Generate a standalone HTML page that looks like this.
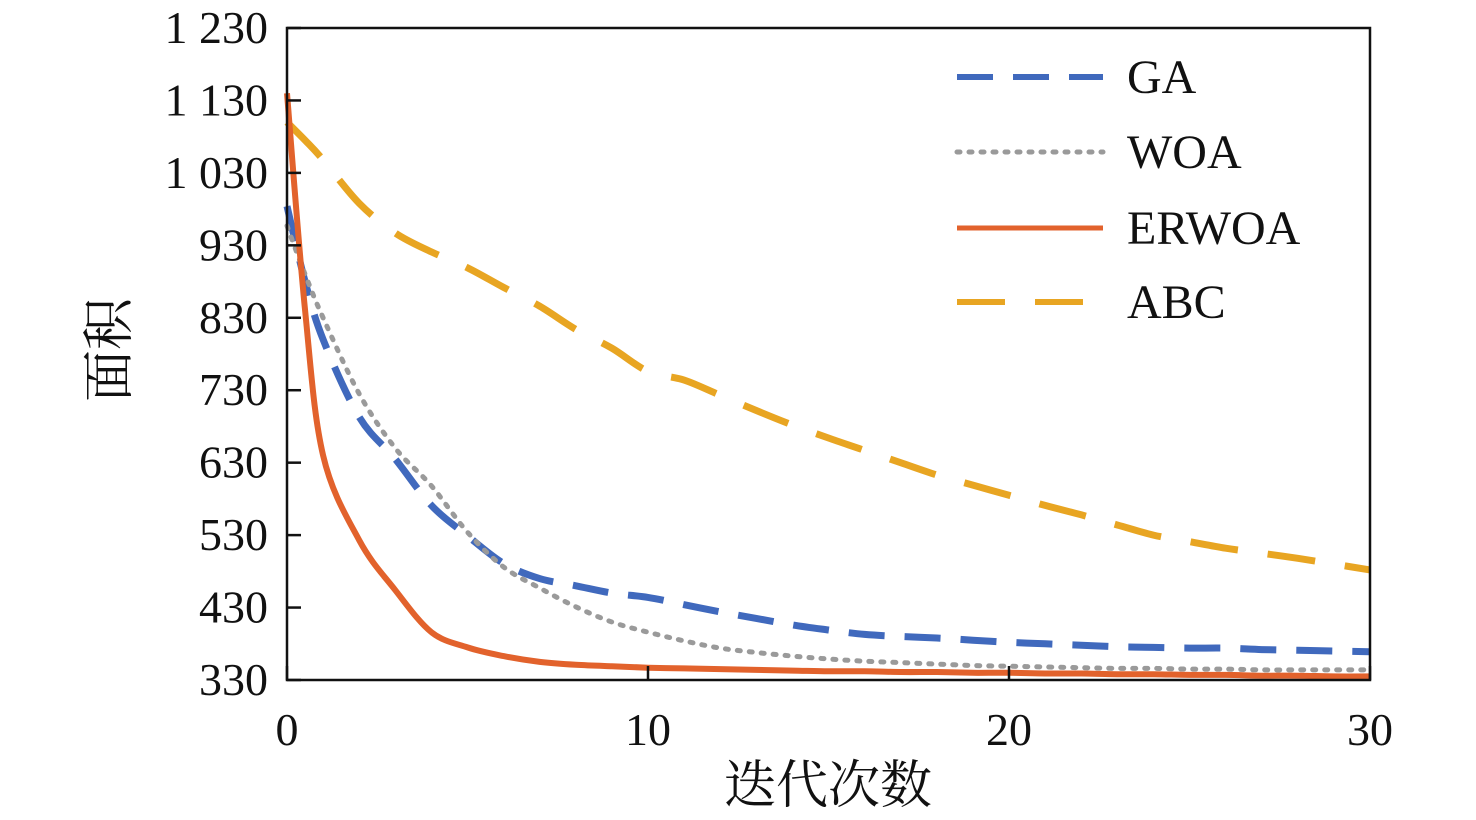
<!DOCTYPE html>
<html><head><meta charset="utf-8"><style>
html,body{margin:0;padding:0;background:#fff;}
svg{display:block;}
text{font-family:"Liberation Serif","Noto Serif CJK SC",serif;}
</style></head><body>
<svg id="chart" width="1476" height="820" viewBox="0 0 1476 820"></svg>
<script>
const iterations=[0,0.5,1,2,3,4,5,6,7,8,9,10,11,12,13,14,15,16,17,18,19,20,21,22,23,24,25,26,27,28,29,30];
const gaValues=[984,880,800,693,635,571,529,491,470,460,450,444,434,424,415,406,399,393,390,388,385,382,380,378,376,375,374,374,372,371,370,369];
const woaValues=[957,890,830,725,650,598,534,486,457,431,410,396,384,374,368,363,359,356,354,352,350,349,348,347,346,346,345,345,344,344,344,344];
const erwoaValues=[1140,840,640,523,454,396,375,363,355,351,349,347,346,345,344,343,342,342,341,341,340,340,339,339,338,338,337,337,336,336,335,335];
const abcValues=[1100,1075,1048,988,947,921,899,872,846,814,788,756,744,723,702,682,664,647,630,613,599,585,571,558,544,530,521,512,505,498,490,482];
const yTicks=[330,430,530,630,730,830,930,1030,1130,1230];
const yTickLabels=["330","430","530","630","730","830","930","1 030","1 130","1 230"];
const xTicks=[0,10,20,30];
const X0=287,X1=1370,Y0=680,Y1=28;
const xs=v=>X0+(v-0)/30*(X1-X0);
const ys=v=>Y0-(v-330)/900*(Y0-Y1);
const svg=document.getElementById('chart');
const NS='http://www.w3.org/2000/svg';
function mk(t,a){const e=document.createElementNS(NS,t);for(const k in a)e.setAttribute(k,a[k]);svg.appendChild(e);return e;}
function smooth(P){
 let d='M'+P[0][0].toFixed(1)+','+P[0][1].toFixed(1);
 for(let i=0;i<P.length-1;i++){
  const p0=P[i-1]||P[i],p1=P[i],p2=P[i+1],p3=P[i+2]||P[i+1];
  const c1=[p1[0]+(p2[0]-p0[0])/6,p1[1]+(p2[1]-p0[1])/6];
  const c2=[p2[0]-(p3[0]-p1[0])/6,p2[1]-(p3[1]-p1[1])/6];
  d+=' C'+c1.map(v=>v.toFixed(1))+' '+c2.map(v=>v.toFixed(1))+' '+p2.map(v=>v.toFixed(1));
 }
 return d;
}
const series=[
 {name:'abc-line',vals:abcValues,color:'#e8a522',w:7,dash:'48 30'},
 {name:'ga-line',vals:gaValues,color:'#4069bd',w:7,dash:'36 20'},
 {name:'woa-line',vals:woaValues,color:'#9a9a9a',w:5,dash:'3 9'},
 {name:'erwoa-line',vals:erwoaValues,color:'#e2622c',w:6,dash:''}
];
series.forEach(s=>{
 const P=iterations.map((it,i)=>[xs(it),ys(s.vals[i])]);
 const p=mk('path',{d:smooth(P),fill:'none',stroke:s.color,'stroke-width':s.w,'stroke-linejoin':'round','stroke-linecap':s.dash==='3 9'?'round':'butt'});
 if(s.dash)p.setAttribute('stroke-dasharray',s.dash);
 
 
});
const fr=mk('rect',{x:X0,y:Y1,width:X1-X0,height:Y0-Y1,fill:'none',stroke:'#111','stroke-width':2.5});


yTicks.forEach((v,i)=>{
 const y=ys(v);
 const t=mk('line',{x1:X0,x2:X0+14,y1:y,y2:y,stroke:'#111','stroke-width':2.5});
 
 
 const l=mk('text',{x:268,y:y+15,'font-size':46,'text-anchor':'end',fill:'#111'});
 l.textContent=yTickLabels[i];
 
 
});
xTicks.forEach(v=>{
 const x=xs(v);
 const t=mk('line',{x1:x,x2:x,y1:Y0,y2:Y0-14,stroke:'#111','stroke-width':2.5});
 
 
 const l=mk('text',{x:x,y:745,'font-size':46,'text-anchor':'middle',fill:'#111'});
 l.textContent=String(v);
 
 
});
const xt=mk('text',{x:828,y:803,'font-size':52,'text-anchor':'middle',fill:'#111'});
xt.textContent='迭代次数';


const yt=mk('text',{x:0,y:0,'font-size':52,'text-anchor':'middle',fill:'#111',transform:'translate(127,350) rotate(-90)'});
yt.textContent='面积';


const legend=[
 {label:'GA',y:77,color:'#4069bd',w:6,dash:'36 20'},
 {label:'WOA',y:152,color:'#9a9a9a',w:5,dash:'3 9'},
 {label:'ERWOA',y:228,color:'#e2622c',w:5,dash:''},
 {label:'ABC',y:302,color:'#e8a522',w:6,dash:'48 30'}
];
legend.forEach(g=>{
 const l=mk('line',{x1:957,x2:1103,y1:g.y,y2:g.y,stroke:g.color,'stroke-width':g.w,'stroke-linecap':g.dash==='3 9'?'round':'butt'});
 if(g.dash)l.setAttribute('stroke-dasharray',g.dash);
 
 
 const t=mk('text',{x:1127,y:g.y+16,'font-size':48,fill:'#111'});
 t.textContent=g.label;
 
 
});
</script>
</body></html>
